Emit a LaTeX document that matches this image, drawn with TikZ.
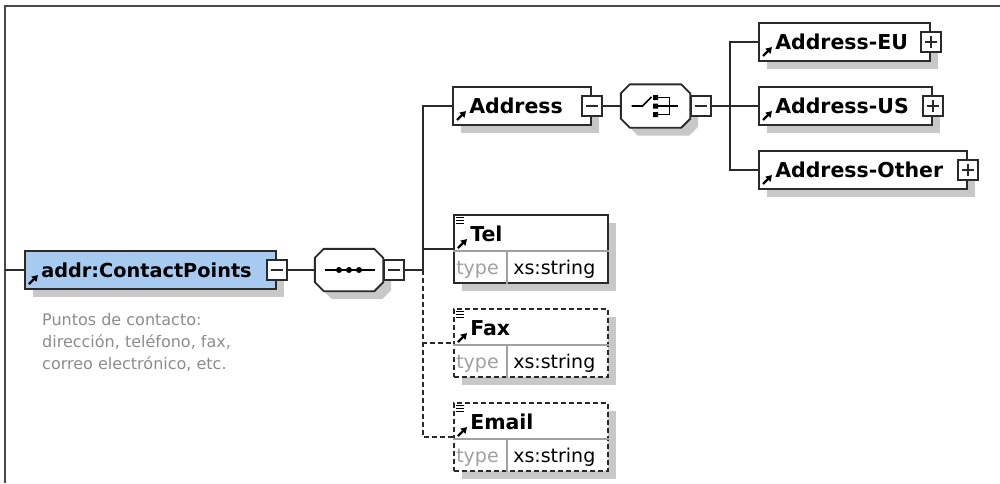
\documentclass[tikz,border=0pt]{standalone}
\usepackage{fontspec}
\setmainfont{DejaVu Sans}
\usetikzlibrary{shadows,arrows.meta,calc}
\definecolor{boxline}{HTML}{2A2A2A}
\definecolor{rootfill}{HTML}{A6CAF0}
\definecolor{shade}{HTML}{C8C8C8}
\definecolor{divgray}{HTML}{A0A0A0}
\definecolor{desccol}{HTML}{8C8C8C}
\tikzset{
  frame/.style={draw=boxline!85, line width=2pt},
  elembox/.style={rectangle, draw=boxline, line width=1.9pt, fill=white, inner sep=0pt,
    general shadow={fill=shade, shadow xshift=8pt, shadow yshift=-8pt}},
  optbox/.style={elembox, dash pattern=on 5pt off 3pt},
  comphold/.style={rectangle, draw=none, inner sep=0pt},
  compshape/.style={draw=boxline, line width=1.9pt, fill=white,
    general shadow={fill=shade, shadow xshift=8pt, shadow yshift=-8pt}},
  btn/.style={rectangle, draw=boxline, line width=1.5pt, fill=white, minimum size=20pt, inner sep=0pt},
  btnminus/.style={btn, path picture={\draw[line width=1.3pt, boxline]
      ([xshift=4pt]path picture bounding box.west) -- ([xshift=-4pt]path picture bounding box.east);}},
  btnplus/.style={btn, path picture={\draw[line width=1.3pt, boxline]
      ([xshift=4pt]path picture bounding box.west) -- ([xshift=-4pt]path picture bounding box.east)
      ([yshift=-4pt]path picture bounding box.north) -- ([yshift=4pt]path picture bounding box.south);}},
  conn/.style={draw=boxline, line width=1.9pt},
  optconn/.style={conn, dash pattern=on 5pt off 3pt},
  lbl/.style={font=\fontsize{20.5}{22}\selectfont\bfseries, inner sep=0pt, anchor=base west},
  rootlbl/.style={lbl, font=\fontsize{19.3}{22}\selectfont\bfseries},
  typetxt/.style={font=\fontsize{19}{20}\selectfont, inner sep=0pt, anchor=base west},
  desctxt/.style={font=\fontsize{16}{20}\selectfont, text=desccol, inner sep=0pt, anchor=base west},
  icon/.style={draw=black, line width=2.3pt, -{Triangle[length=6pt,width=7pt]}},
  divider/.style={draw=divgray, line width=1.3pt},
  eqicon/.style={draw=black, line width=1.1pt},
  sym/.style={draw=black, line width=1.6pt}
}
\newcommand\octpath[1]{($(#1.north west)+(9,0)$) -- ($(#1.north east)+(-9,0)$) -- ($(#1.north east)+(0,9)$) -- ($(#1.south east)+(0,-9)$) -- ($(#1.south east)+(-9,0)$) -- ($(#1.south west)+(9,0)$) -- ($(#1.south west)+(0,-9)$) -- ($(#1.north west)+(0,9)$) -- cycle}
\newcommand\elemdeco[3][lbl]{%
  \node[#1] (#2-lbl) at ($(#2.north west)+(17,27)$) {#3};
  \draw[icon] ($(#2.north west)+(5,34)$) -- ($(#2.north west)+(14,25)$);
}
\newcommand\typerow[1]{%
  \draw[divider] ($(#1.north west)+(0,37)$) -- ($(#1.north east)+(0,37)$);
  \draw[divider] ($(#1.north west)+(54,37)$) -- ($(#1.south west)+(54,0)$);
  \node[typetxt, text=divgray] (#1-type) at ($(#1.north west)+(3,60)$) {type};
  \node[typetxt] (#1-xs) at ($(#1.north west)+(60,60)$) {xs:string};
  \draw[eqicon] ($(#1.north west)+(3,3)$) -- ($(#1.north west)+(11,3)$)
                ($(#1.north west)+(3,6)$) -- ($(#1.north west)+(11,6)$)
                ($(#1.north west)+(3,9)$) -- ($(#1.north west)+(11,9)$);
}
\begin{document}
\begin{tikzpicture}[x=1pt,y=-1pt]
\useasboundingbox (0,0) rectangle (1000,483);
\draw[frame] (5,483) -- (5,6) -- (1000,6);

% root element
\coordinate (entry) at (5,270);
\node[elembox, fill=rootfill, minimum width=251pt, minimum height=38pt] (root) at (150.5,270) {};
\elemdeco[rootlbl]{root}{addr:ContactPoints}
\node[btnminus] (rootbtn) at (root.east) {};
\node[desctxt] (desc1) at (42,325) {Puntos de contacto:};
\node[desctxt] (desc2) at (42,347) {dirección, teléfono, fax,};
\node[desctxt] (desc3) at (42,369) {correo electrónico, etc.};

% sequence compositor
\node[comphold, minimum width=68pt, minimum height=42pt] (seq) at (349,270) {};
\path[compshape] \octpath{seq};
\draw[sym] ($(seq.center)+(-24,0)$) -- ($(seq.center)+(26,0)$);
\fill ($(seq.center)+(-10,0)$) circle (3pt) ($(seq.center)+(0,0)$) circle (3pt) ($(seq.center)+(10,0)$) circle (3pt);
\node[btnminus, anchor=west] (seqbtn) at (seq.east) {};

% Address
\node[elembox, minimum width=138pt, minimum height=38pt] (address) at (522,106) {};
\elemdeco{address}{Address}
\node[btnminus] (addrbtn) at (address.east) {};

% choice compositor
\node[comphold, minimum width=69pt, minimum height=43pt] (choice) at (655.5,106) {};
\path[compshape] \octpath{choice};
\draw[sym] ($(choice.center)+(-24,0)$) -- ($(choice.center)+(-13,0)$) -- ($(choice.center)+(-4,-9)$);
\fill ($(choice.center)+(-2.5,-11)$) rectangle ($(choice.center)+(2.5,-6)$)
      ($(choice.center)+(-2.5,-2.5)$) rectangle ($(choice.center)+(2.5,2.5)$)
      ($(choice.center)+(-2.5,6)$) rectangle ($(choice.center)+(2.5,11)$);
\draw[sym] ($(choice.center)+(2.5,-8.5)$) -- ($(choice.center)+(14,-8.5)$) -- ($(choice.center)+(14,8.5)$) -- ($(choice.center)+(2.5,8.5)$)
           ($(choice.center)+(2.5,0)$) -- ($(choice.center)+(22,0)$);
\node[btnminus, anchor=west] (choicebtn) at (choice.east) {};

% Address variants
\node[elembox, minimum width=171pt, minimum height=38pt] (eu) at (844.5,42) {};
\elemdeco{eu}{Address-EU}
\node[btnplus] (eubtn) at (eu.east) {};
\node[elembox, minimum width=173pt, minimum height=38pt] (us) at (845.5,106) {};
\elemdeco{us}{Address-US}
\node[btnplus] (usbtn) at (us.east) {};
\node[elembox, minimum width=208pt, minimum height=38pt] (other) at (863,170) {};
\elemdeco{other}{Address-Other}
\node[btnplus] (otherbtn) at (other.east) {};

% typed elements
\node[elembox, minimum width=154pt, minimum height=68pt] (tel) at (531,249) {};
\elemdeco{tel}{Tel}
\typerow{tel}
\node[optbox, minimum width=154pt, minimum height=68pt] (fax) at (531,343) {};
\elemdeco{fax}{Fax}
\typerow{fax}
\node[optbox, minimum width=154pt, minimum height=68pt] (email) at (531,437) {};
\elemdeco{email}{Email}
\typerow{email}

% connectors
\coordinate (t1) at (423,270);
\coordinate (t2) at (730,106);
\draw[conn] (entry) -- (root.west);
\draw[conn] (rootbtn.east) -- (seq.west);
\draw[conn] (seqbtn.east) -- (t1);
\draw[conn] (t1) |- (address.west);
\draw[conn] (t1) |- (tel.west);
\draw[optconn] (t1) |- (fax.west);
\draw[optconn] (t1) |- (email.west);
\draw[conn] (addrbtn.east) -- (choice.west);
\draw[conn] (choicebtn.east) -- (t2);
\draw[conn] (t2) |- (eu.west);
\draw[conn] (t2) -- (us.west);
\draw[conn] (t2) |- (other.west);
\end{tikzpicture}
\end{document}
